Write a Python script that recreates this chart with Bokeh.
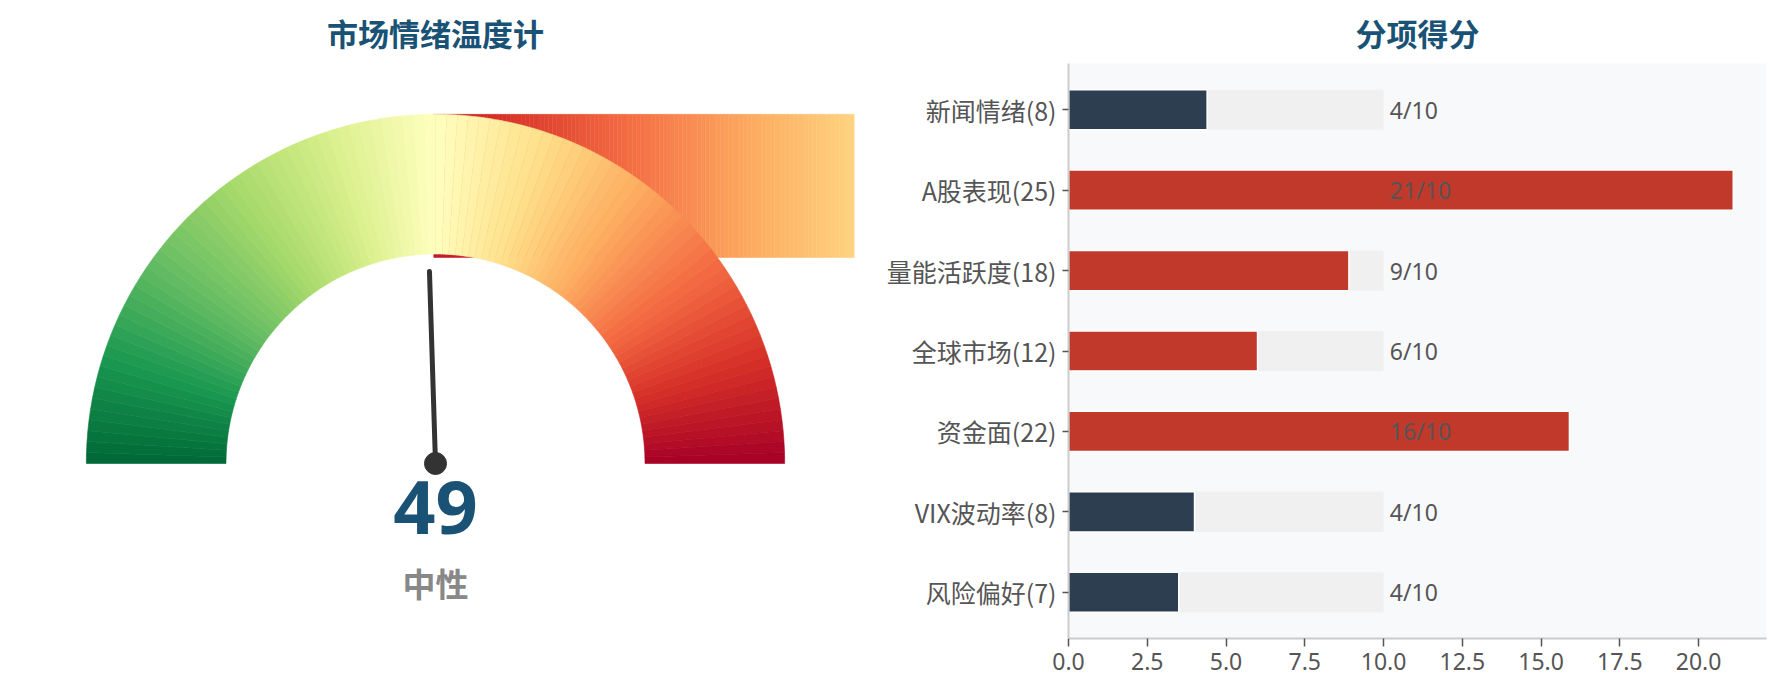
import numpy as np
from bokeh.plotting import figure
from bokeh.layouts import row
from bokeh.models import Range1d, FixedTicker, SingleIntervalTicker, PrintfTickFormatter
from bokeh.core.properties import value
from bokeh.embed import file_html
from bokeh.resources import INLINE

# ---------------- data ----------------
gauge_title = "市场情绪温度计"
bars_title = "分项得分"
score_value = 49
score_label = "中性"

categories = ["新闻情绪(8)", "A股表现(25)", "量能活跃度(18)", "全球市场(12)",
              "资金面(22)", "VIX波动率(8)", "风险偏好(7)"]
scores = [4.4, 21.1, 8.9, 6.0, 15.9, 4.0, 3.5]
full_scale = 10

# colormap anchors (green -> yellow -> red)
cmap_anchors = ['#006837', '#1a9850', '#66bd63', '#a6d96a', '#d9ef8b', '#ffffbf',
                '#fee08b', '#fdae61', '#f46d43', '#d73027', '#a50026']

TITLE_COLOR = "#1a5276"
RED = "#c0392b"
DARK = "#2c3e50"


def cmap(t):
    t = np.clip(np.asarray(t, dtype=float), 0, 1)
    rgb = np.array([[int(h[i:i + 2], 16) for i in (1, 3, 5)] for h in cmap_anchors], dtype=float)
    pos = np.linspace(0, 1, len(cmap_anchors))
    r = np.interp(t, pos, rgb[:, 0])
    g = np.interp(t, pos, rgb[:, 1])
    b = np.interp(t, pos, rgb[:, 2])
    return ["#%02x%02x%02x" % (int(round(a)), int(round(bb)), int(round(c))) for a, bb, c in zip(r, g, b)]


def style_title(p, text):
    p.title.text = text
    p.title.align = "center"
    p.title.vertical_align = "top"
    p.title.text_font = "Noto Sans CJK SC"
    p.title.text_font_style = "bold"
    p.title.text_font_size = "31px"
    p.title.text_color = TITLE_COLOR
    p.title.standoff = 14


# layout constants (pixels)
FIG_H = 688
BORDER_TOP = 63
BORDER_BOTTOM = 50
FRAME_H = FIG_H - BORDER_TOP - BORDER_BOTTOM  # 575

# ---------------- gauge ----------------
scale = 838 / 2.4
y_top = 400 / scale
y_bot = y_top - FRAME_H / scale

p1 = figure(width=878, height=FIG_H, x_range=Range1d(-1.2, 1.2), y_range=Range1d(y_bot, y_top),
            output_backend="svg", toolbar_location=None,
            x_axis_location=None, y_axis_location=None,
            min_border_left=16, min_border_right=24,
            min_border_top=BORDER_TOP, min_border_bottom=BORDER_BOTTOM)
p1.grid.visible = False
p1.outline_line_color = None
p1.background_fill_color = "white"
style_title(p1, gauge_title)

# stray gradient band behind the gauge
n_band = 110
edges = np.linspace(-0.005, 1.2, n_band + 1)
mids = (edges[:-1] + edges[1:]) / 2
band_cols = cmap(0.95 - 0.27 * mids)
p1.quad(left=edges[:-1], right=edges[1:], bottom=0.59, top=1.0,
        fill_color=band_cols, line_color=band_cols, line_width=0.5)

# gauge wedges
n_seg = 100
seg_idx = np.arange(n_seg)
start = np.pi - (seg_idx + 1) * np.pi / n_seg
end = np.pi - seg_idx * np.pi / n_seg
seg_cols = cmap((seg_idx + 0.5) / n_seg)
p1.annular_wedge(x=0, y=0, inner_radius=0.6, outer_radius=1.0,
                 start_angle=start, end_angle=end,
                 fill_color=seg_cols, line_color=seg_cols, line_width=0.6)

# needle
ang = np.pi - score_value / 100 * np.pi
needle_len = 0.55
p1.segment(x0=[0], y0=[0], x1=[needle_len * np.cos(ang)], y1=[needle_len * np.sin(ang)],
           line_color="#333333", line_width=5, line_cap="round")
p1.scatter(x=[0], y=[0], size=22, marker="circle", fill_color="#333333", line_color="#333333")

# central texts
p1.text(x=[0], y=[(463 - 507) / scale], text=[str(score_value)],
        text_align="center", text_baseline="middle",
        text_font=value("Noto Sans"), text_font_style="bold",
        text_font_size="74px", text_color=TITLE_COLOR)
p1.text(x=[0], y=[(463 - 582) / scale], text=[score_label],
        text_align="center", text_baseline="middle",
        text_font=value("Noto Sans CJK SC"), text_font_style="bold",
        text_font_size="33px", text_color="#888888")

# ---------------- bars ----------------
n = len(categories)
ys = [n - 1 - i for i in range(n)]
bar_cols = [RED if s >= 5 else DARK for s in scores]
labels = [f"{round(s)}/{full_scale}" for s in scores]

p2 = figure(width=893, height=FIG_H, x_range=Range1d(0, 22.155), y_range=Range1d(-0.575, n - 1 + 0.575),
            output_backend="svg", toolbar_location=None,
            min_border_left=190, min_border_right=5,
            min_border_top=BORDER_TOP, min_border_bottom=BORDER_BOTTOM)
p2.background_fill_color = "#f8f9fa"
p2.border_fill_color = "white"
p2.outline_line_color = None
p2.grid.visible = False
style_title(p2, bars_title)

p2.hbar(y=ys, left=0, right=full_scale, height=0.5, fill_color="#f0f0f0", line_color=None)
p2.hbar(y=ys, left=0, right=scores, height=0.5, fill_color=bar_cols,
        line_color="white", line_width=1.5)
p2.text(x=full_scale + 0.2, y=ys, text=labels, text_align="left", text_baseline="middle",
        text_font=value("Noto Sans"), text_font_size="23px", text_color="#555555")

xa = p2.xaxis[0]
xa.ticker = SingleIntervalTicker(interval=2.5, num_minor_ticks=0)
xa.formatter = PrintfTickFormatter(format="%.1f")
xa.major_label_text_font = "Noto Sans"
xa.major_label_text_font_size = "23px"
xa.major_label_text_color = "#555555"
xa.axis_line_color = "#cccccc"
xa.axis_line_width = 2
xa.major_tick_line_color = "#555555"
xa.major_tick_line_width = 1.5
xa.major_tick_out = 8
xa.major_tick_in = 0
xa.minor_tick_line_color = None
xa.major_label_standoff = 6

ya = p2.yaxis[0]
ya.ticker = FixedTicker(ticks=ys)
ya.major_label_overrides = {y: c for y, c in zip(ys, categories)}
ya.major_label_text_font = "Noto Sans CJK SC"
ya.major_label_text_font_size = "25px"
ya.major_label_text_color = "#555555"
ya.axis_line_color = "#cccccc"
ya.axis_line_width = 2
ya.major_tick_line_color = "#555555"
ya.major_tick_line_width = 1.5
ya.major_tick_out = 6
ya.major_tick_in = 0
ya.minor_tick_line_color = None
ya.major_label_standoff = 6

layout = row(p1, p2)
open("out.html", "w").write(file_html(layout, INLINE))
